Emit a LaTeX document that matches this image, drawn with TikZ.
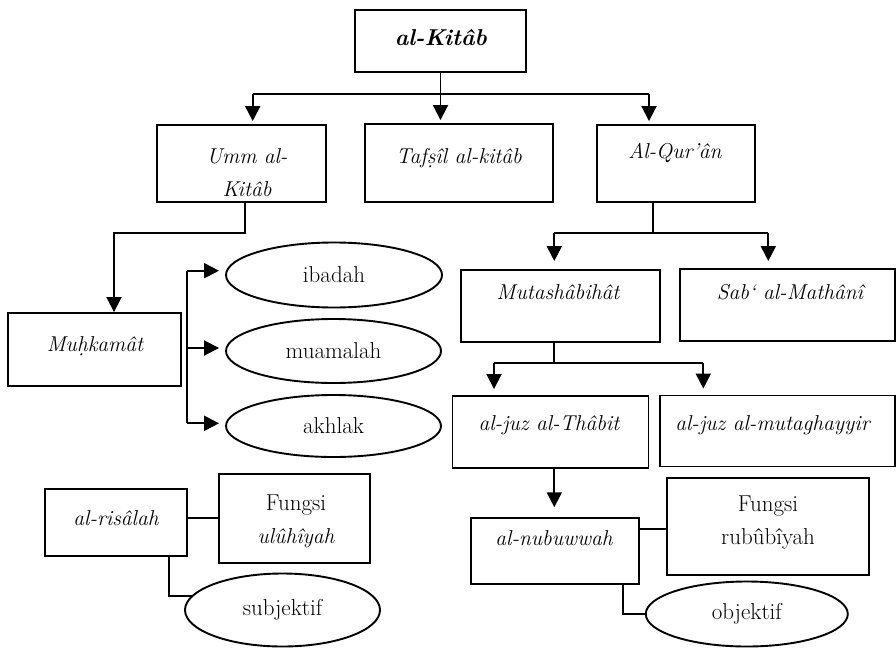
\documentclass[tikz,border=0pt]{standalone}
\usepackage{fontspec}
\usetikzlibrary{arrows.meta,shapes.geometric,calc}
\tikzset{
  box/.style={draw, line width=1.9pt, inner sep=0pt},
  ell/.style={draw, ellipse, line width=1.9pt, inner sep=0pt, font=\fontsize{23}{33}\selectfont},
  txt/.style={anchor=base, inner sep=0pt, font=\fontsize{23}{33}\selectfont},
  itxt/.style={anchor=base, inner sep=0pt, font=\fontsize{21.5}{33}\selectfont\itshape},
  twoline/.style={text width=190pt, align=center},
  ln/.style={line width=1.9pt},
  arr/.style={line width=1.9pt, -{Triangle[length=15pt,width=15pt]}}
}
\begin{document}
\begin{tikzpicture}[x=1pt,y=-1pt]
\useasboundingbox (0,0) rectangle (896,648);

% boxes
\node[box, minimum width=171pt, minimum height=62pt] (kitab) at (440.5,41) {};
\node[box, minimum width=169pt, minimum height=77pt] (umm) at (241.5,163.5) {};
\node[box, minimum width=188pt, minimum height=78pt] (tafsil) at (459,163) {};
\node[box, minimum width=158pt, minimum height=77pt] (quran) at (676,163.5) {};
\node[box, minimum width=173pt, minimum height=73pt] (muhk) at (94.5,349.5) {};
\node[box, minimum width=199pt, minimum height=72pt] (mutash) at (560.3,306) {};
\node[box, minimum width=215pt, minimum height=72pt] (sab) at (787.2,305) {};
\node[box, minimum width=196pt, minimum height=72pt] (thabit) at (550.5,432) {};
\node[box, minimum width=235pt, minimum height=71pt] (mutag) at (777.5,431) {};
\node[box, minimum width=168pt, minimum height=66pt] (nubu) at (554.6,551.2) {};
\node[box, minimum width=202pt, minimum height=97pt] (rub) at (767.6,526.6) {};
\node[box, minimum width=142pt, minimum height=67pt] (risalah) at (115.8,522.7) {};
\node[box, minimum width=151pt, minimum height=89pt] (ulu) at (294.7,518.7) {};

% ellipses
\node[ell, minimum width=216pt, minimum height=65pt] (ibadah) at (334,275) {ibadah};
\node[ell, minimum width=215pt, minimum height=64pt] (muamalah) at (333.5,351) {muamalah};
\node[ell, minimum width=215pt, minimum height=62pt] (akhlak) at (333.5,426) {akhlak};
\node[ell, minimum width=195pt, minimum height=73pt] (subj) at (282.5,610) {subjektif};
\node[ell, minimum width=202pt, minimum height=65pt] (obj) at (746.8,614) {objektif};

% texts
\node[itxt, font=\fontsize{23}{33}\selectfont\bfseries\itshape] (tkitab) at (440.8,45) {al-Kitâb};
\node[itxt, twoline] (tumm) at (247,163) {Umm al-\\Kitâb};
\node[itxt] (ttafsil) at (459,163) {Tafṣîl al-kitâb};
\node[itxt] (tquran) at (675,158) {Al-Qur’ân};
\node[itxt] (tmuhk) at (95,351) {Muḥkamât};
\node[itxt] (tmutash) at (558,299) {Mutashâbihât};
\node[itxt] (tsab) at (790,299) {Sab‘ al-Mathânî};
\node[itxt] (tthabit) at (549,430) {al-juz al-Thâbit};
\node[itxt] (tmutag) at (772.5,430) {al-juz al-mutaghayyir};
\node[itxt] (tnubu) at (554,545) {al-nubuwwah};
\node[txt, twoline] (trub) at (768,511.7) {Fungsi\\rubûbîyah};
\node[txt, twoline] (tulu) at (296,510) {Fungsi\\\fontsize{21.5}{33}\selectfont\itshape ulûhîyah};
\node[itxt] (trisalah) at (116,525) {al-risâlah};

% top level connectors
\coordinate (bl) at (252.7,94);
\coordinate (br) at (649,94);
\draw[ln] (bl) -- (br);
\draw[arr, shorten >=3pt] (kitab.south) -- (kitab.south |- tafsil.north);
\draw[arr, shorten >=3pt] (bl) -- (bl |- umm.north);
\draw[arr, shorten >=3pt] (br) -- (br |- quran.north);

% Umm al-Kitab -> Muhkamat
\coordinate (u1) at (245,232.7);
\coordinate (u2) at (114,232.7);
\draw[arr] (u1 |- umm.south) -- (u1) -- (u2) -- (u2 |- muhk.north);

% bracket to ellipses
\coordinate (ba) at (186.7,270.7);
\coordinate (bb) at (186.7,348);
\coordinate (bc) at (186.7,423.3);
\draw[ln] (ba) -- (bc);
\draw[arr, shorten >=6pt] (ba) -- (ba -| ibadah.west);
\draw[arr, shorten >=6pt] (bb) -- (bb -| muamalah.west);
\draw[arr, shorten >=6pt] (bc) -- (bc -| akhlak.west);

% Al-Qur'an
\coordinate (q1) at (652.7,232.7);
\coordinate (ql) at (554.3,232.7);
\coordinate (qr) at (768.3,232.7);
\draw[ln] (q1 |- quran.south) -- (q1);
\draw[ln] (ql) -- (qr);
\draw[arr, shorten >=8pt] (ql) -- (ql |- mutash.north);
\draw[arr, shorten >=7pt] (qr) -- (qr |- sab.north);

% Mutashabihat
\coordinate (m1) at (554.3,362.7);
\coordinate (ml) at (494,362.7);
\coordinate (mr) at (703.3,362.7);
\draw[ln] (m1 |- mutash.south) -- (m1);
\draw[ln] (ml) -- (mr);
\draw[arr, shorten >=6pt] (ml) -- (ml |- thabit.north);
\draw[arr, shorten >=6pt] (mr) -- (mr |- mutag.north);

% al-juz al-Thabit -> al-nubuwwah
\draw[arr, shorten >=10pt] (m1 |- thabit.south) -- (m1 |- nubu.north);

% al-nubuwwah links
\coordinate (rl) at (650,529.3);
\draw[ln] (nubu.east |- rl) -- (rub.west |- rl);
\coordinate (n1) at (622.7,600);
\draw[ln] (n1 |- nubu.south) |- (obj.west);

% al-risalah links
\coordinate (ul) at (200,518.3);
\draw[ln] (risalah.east |- ul) -- (ulu.west |- ul);
\coordinate (r1) at (169,590);
\draw[ln] (r1 |- risalah.south) |- (subj.171);
\end{tikzpicture}
\end{document}
